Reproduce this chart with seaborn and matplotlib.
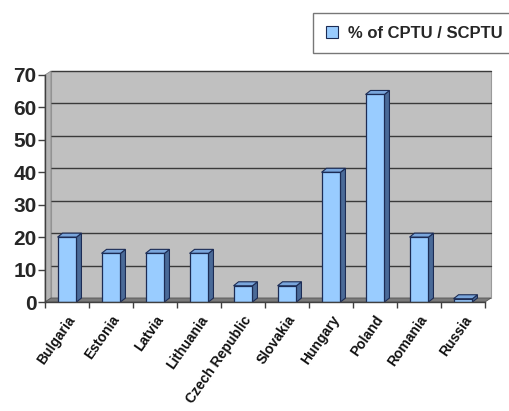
import matplotlib
matplotlib.use("Agg")
import matplotlib.pyplot as plt
import seaborn as sns
import numpy as np
import pandas as pd
from matplotlib.patches import Polygon, Rectangle
from matplotlib.transforms import IdentityTransform, ScaledTranslation

countries = ["Bulgaria", "Estonia", "Latvia", "Lithuania", "Czech Republic",
             "Slovakia", "Hungary", "Poland", "Romania", "Russia"]
share_cptu = [20, 15, 15, 15, 5, 5, 40, 64, 20, 1]
y_ticks = [0, 10, 20, 30, 40, 50, 60, 70]
series_name = "% of CPTU / SCPTU"

sns.set_style("white")
plt.rcParams["font.family"] = ["Liberation Sans", "DejaVu Sans"]

DPI = 100
W, H = 509, 411
fig = plt.figure(figsize=(W / DPI, H / DPI), dpi=DPI)
fig.patch.set_facecolor("white")

# front plane of the pseudo-3D chart, in pixel units
left_px, right_px, top_px, bottom_px = 45, 485, 75, 302
ax = fig.add_axes([left_px / W, 1 - bottom_px / H,
                   (right_px - left_px) / W, (bottom_px - top_px) / H])

df = pd.DataFrame({"country": countries, "share": share_cptu})
sns.barplot(data=df, x="country", y="share", color="#99ccff",
            edgecolor="#1c2c55", linewidth=0.9, width=0.43,
            saturation=1, ax=ax, zorder=3)
bars = list(ax.patches)

ax.set_xlim(-0.5, len(countries) - 0.5)
ax.set_ylim(y_ticks[0], y_ticks[-1])
ax.set_facecolor("none")
ax.set_xlabel("")
ax.set_ylabel("")

# depth offsets (pixels) for the walls and for the bars
wall_dx, wall_dy = 6, 4
bar_dx, bar_dy = 5, 4

wall_shift = ax.transAxes + ScaledTranslation(wall_dx / DPI, wall_dy / DPI,
                                              fig.dpi_scale_trans)
data_shift = ax.transData + ScaledTranslation(wall_dx / DPI, wall_dy / DPI,
                                              fig.dpi_scale_trans)

# back wall
ax.add_patch(Rectangle((0, 0), 1, 1, transform=wall_shift, facecolor="#c0c0c0",
                       edgecolor="#9a9a9a", linewidth=0.8, zorder=0.1,
                       clip_on=False))
# gridlines on the back wall
for v in y_ticks[1:]:
    ax.plot([-0.5, len(countries) - 0.5], [v, v], color="#3a3a3a",
            linewidth=1.0, transform=data_shift, zorder=0.2, clip_on=False)

fig.canvas.draw()
tA = ax.transAxes
(x0, y0), (x1, y1) = tA.transform((0, 0)), tA.transform((1, 1))
# left side wall
ax.add_patch(Polygon([(x0, y0), (x0, y1), (x0 + wall_dx, y1 + wall_dy),
                      (x0 + wall_dx, y0 + wall_dy)], closed=True,
                     transform=IdentityTransform(), facecolor="#b4b4b4",
                     edgecolor="#8a8a8a", linewidth=0.6, zorder=0.3,
                     clip_on=False))
# floor
ax.add_patch(Polygon([(x0, y0), (x1, y0), (x1 + wall_dx, y0 + wall_dy),
                      (x0 + wall_dx, y0 + wall_dy)], closed=True,
                     transform=IdentityTransform(), facecolor="#7a7a7a",
                     edgecolor="#555555", linewidth=0.6, zorder=0.3,
                     clip_on=False))

# side and top faces of each bar
tD = ax.transData
for p in bars:
    bx0, by0 = tD.transform((p.get_x(), 0))
    bx1, by1 = tD.transform((p.get_x() + p.get_width(), p.get_height()))
    ax.add_patch(Polygon([(bx1, by0), (bx1, by1), (bx1 + bar_dx, by1 + bar_dy),
                          (bx1 + bar_dx, by0 + bar_dy)], closed=True,
                         transform=IdentityTransform(), facecolor="#4a6a98",
                         edgecolor="#1c2c55", linewidth=0.8, zorder=2.9,
                         clip_on=False))
    ax.add_patch(Polygon([(bx0, by1), (bx1, by1), (bx1 + bar_dx, by1 + bar_dy),
                          (bx0 + bar_dx, by1 + bar_dy)], closed=True,
                         transform=IdentityTransform(), facecolor="#7aa6dc",
                         edgecolor="#1c2c55", linewidth=0.8, zorder=2.9,
                         clip_on=False))

# axes lines and ticks
for side in ("top", "right"):
    ax.spines[side].set_visible(False)
for side in ("left", "bottom"):
    ax.spines[side].set_visible(True)
    ax.spines[side].set_color("#404040")
    ax.spines[side].set_linewidth(1.0)
    ax.spines[side].set_zorder(4)

ax.set_yticks(y_ticks)
ax.set_yticklabels([str(v) for v in y_ticks], fontsize=15, fontweight="bold")
ax.tick_params(axis="y", which="major", direction="out", length=5, width=1,
               color="#404040", pad=1, left=True)

ax.set_xticks(range(len(countries)))
ax.set_xticklabels(countries, rotation=55, ha="right", rotation_mode="anchor",
                   fontsize=10, fontweight="bold", color="#111111")
ax.set_xticks(np.arange(-0.5, len(countries)), minor=True)
ax.tick_params(axis="x", which="major", length=0, pad=8)
ax.tick_params(axis="x", which="minor", direction="out", length=4, width=1,
               color="#404040", bottom=True)

# legend
handle = Rectangle((0, 0), 1, 1, facecolor="#99ccff", edgecolor="#1c2c55",
                   linewidth=0.8)
leg = fig.legend([handle], [series_name], loc="upper left",
                 bbox_to_anchor=(313 / W, 1 - 13 / H),
                 prop={"size": 12, "weight": "bold"},
                 frameon=True, fancybox=False, edgecolor="#555555",
                 handlelength=0.75, handleheight=0.75, handletextpad=0.6,
                 borderpad=0.75, borderaxespad=0)
leg.get_frame().set_linewidth(1.0)

fig.savefig("out.png", dpi=DPI)
